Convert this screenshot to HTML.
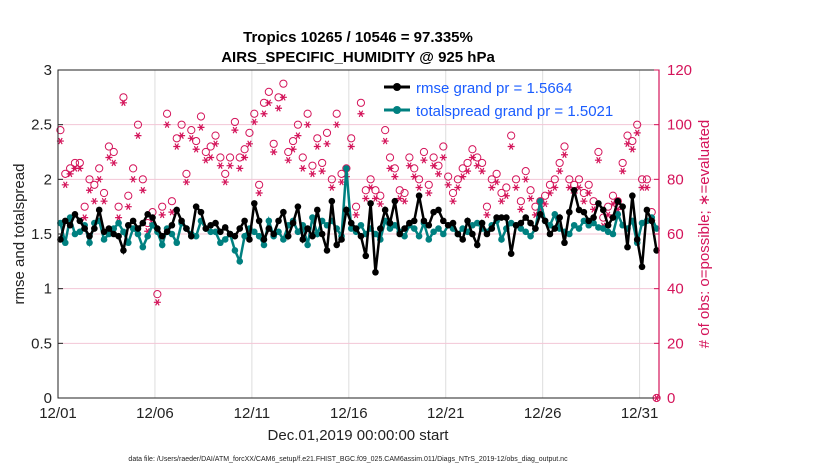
<!DOCTYPE html>
<html><head><meta charset="utf-8"><style>
body{margin:0;background:#fff;width:830px;height:470px;overflow:hidden;font-family:"Liberation Sans",sans-serif}
</style></head><body>
<svg id="chart" width="830" height="470" xmlns="http://www.w3.org/2000/svg" font-family="Liberation Sans, sans-serif">
<text x="358" y="42" text-anchor="middle" font-size="15" font-weight="bold">Tropics 10265 / 10546 = 97.335%</text>
<text x="358" y="62" text-anchor="middle" font-size="15" font-weight="bold">AIRS_SPECIFIC_HUMIDITY @ 925 hPa</text>
<g id="grid"></g>
<g id="marks"></g>
<g id="axes"></g>
<text x="358" y="440" text-anchor="middle" font-size="15" fill="#222">Dec.01,2019 00:00:00 start</text>
<text transform="translate(24,234) rotate(-90)" text-anchor="middle" font-size="15" fill="#222">rmse and totalspread</text>
<text transform="translate(709,234) rotate(-90)" text-anchor="middle" font-size="15" fill="#d4145a"># of obs: o=possible; ∗=evaluated</text>
<text x="348" y="461" text-anchor="middle" font-size="7" fill="#222">data file: /Users/raeder/DAI/ATM_forcXX/CAM6_setup/f.e21.FHIST_BGC.f09_025.CAM6assim.011/Diags_NTrS_2019-12/obs_diag_output.nc</text>
<g>
<line x1="384" y1="87" x2="410" y2="87" stroke="#000" stroke-width="3"/><circle cx="397" cy="87" r="4" fill="#000"/>
<text x="416" y="93" font-size="15" fill="#1a5cff">rmse grand pr = 1.5664</text>
<line x1="384" y1="110" x2="410" y2="110" stroke="#008080" stroke-width="3"/><circle cx="397" cy="110" r="4" fill="#008080"/>
<text x="416" y="116" font-size="15" fill="#1a5cff">totalspread grand pr = 1.5021</text>
</g>
</svg>
<script>
const rmse=[1.45,1.62,1.58,1.68,1.62,1.55,1.48,1.55,1.72,1.52,1.55,1.50,1.48,1.35,1.58,1.62,1.55,1.60,1.68,1.65,1.55,1.48,1.52,1.58,1.72,1.62,1.55,1.48,1.75,1.70,1.55,1.58,1.60,1.52,1.56,1.50,1.48,1.55,1.62,1.45,1.78,1.62,1.45,1.55,1.50,1.62,1.70,1.48,1.60,1.75,1.45,1.55,1.48,1.72,1.50,1.35,1.80,1.40,1.45,1.72,1.60,1.55,1.48,1.30,1.78,1.15,1.55,1.72,1.60,1.80,1.50,1.55,1.60,1.62,1.85,1.62,1.58,1.70,1.72,1.62,1.58,1.60,1.50,1.45,1.62,1.50,1.40,1.60,1.50,1.55,1.65,1.65,1.65,1.32,1.58,1.60,1.65,1.60,1.55,1.68,1.62,1.50,1.55,1.65,1.42,1.70,1.90,1.72,1.70,1.62,1.65,1.78,1.72,1.58,1.65,1.80,1.75,1.38,1.85,1.45,1.20,1.72,1.62,1.35];
const spread=[1.60,1.42,1.65,1.50,1.52,1.58,1.42,1.60,1.62,1.45,1.50,1.55,1.60,1.52,1.42,1.55,1.50,1.38,1.48,1.58,1.52,1.40,1.55,1.50,1.42,1.60,1.55,1.50,1.48,1.62,1.55,1.52,1.52,1.42,1.45,1.50,1.35,1.25,1.48,1.55,1.52,1.48,1.40,1.62,1.48,1.52,1.45,1.58,1.62,1.52,1.58,1.40,1.65,1.50,1.62,1.58,1.62,1.55,1.48,2.10,1.55,1.52,1.58,1.50,1.55,1.50,1.45,1.62,1.55,1.58,1.52,1.48,1.58,1.55,1.48,1.60,1.45,1.52,1.55,1.50,1.58,1.55,1.50,1.55,1.52,1.58,1.60,1.55,1.52,1.58,1.62,1.45,1.55,1.60,1.58,1.55,1.52,1.48,1.55,1.80,1.62,1.58,1.68,1.55,1.52,1.50,1.58,1.55,1.62,1.58,1.60,1.56,1.55,1.52,1.50,1.68,1.58,1.55,1.62,1.42,1.60,1.62,1.65,1.55];
const possible=[98,82,84,86,86,70,80,78,84,75,92,90,70,110,74,84,100,80,64,68,38,70,104,72,95,100,82,98,94,103,90,92,96,88,82,88,101,88,91,97,104,78,108,112,93,110,115,90,94,100,88,104,85,95,86,97,80,104,82,84,95,70,108,76,80,76,74,98,88,84,76,75,88,84,80,90,78,88,85,92,81,75,80,84,86,91,88,86,70,80,82,75,77,96,80,72,83,76,70,72,74,78,80,86,92,80,78,80,75,78,72,90,66,70,74,72,86,96,94,100,80,80,68,0];
const evaluated=[94,78,82,84,84,66,76,72,80,72,88,86,66,108,70,80,96,76,61,64,35,67,100,68,92,96,79,95,91,99,87,88,93,85,79,85,98,84,88,93,101,75,104,108,90,106,110,87,91,96,84,100,82,92,83,93,77,100,79,81,92,67,104,73,77,73,71,94,84,81,73,72,85,81,77,87,75,85,82,88,78,72,77,81,83,88,85,83,67,77,79,72,74,92,77,69,80,73,67,69,71,75,77,83,89,77,75,77,72,75,69,87,63,67,71,69,83,93,91,97,77,77,65,0];
const xTickLabels=["12/01","12/06","12/11","12/16","12/21","12/26","12/31"];
const xTickDays=[0,5,10,15,20,25,30];
const yLeftTicks=[0,0.5,1,1.5,2,2.5,3];
const yRightTicks=[0,20,40,60,80,100,120];

const X0=58,X1=659,Y0=398,Y1=70;
const xs=d=>X0+(d/31)*(X1-X0);
const yl=v=>Y0-(v/3)*(Y0-Y1);
const yr=v=>Y0-(v/120)*(Y0-Y1);
const NS="http://www.w3.org/2000/svg";
function mk(tag,attrs,parent){const e=document.createElementNS(NS,tag);for(const k in attrs)e.setAttribute(k,attrs[k]);parent.appendChild(e);return e;}
const grid=document.getElementById('grid'),marks=document.getElementById('marks'),axes=document.getElementById('axes');
xTickDays.forEach(d=>{const l=mk('line',{x1:xs(d),x2:xs(d),y1:Y1,y2:Y0,stroke:'#ddd','stroke-width':1},grid);

});
yRightTicks.forEach(v=>{if(v===0||v===120)return;const l=mk('line',{x1:X0,x2:X1,y1:yr(v),y2:yr(v),stroke:'#f3c6d6','stroke-width':1},grid);

});
const dt=0.25, off=0.125;
possible.forEach((v,i)=>{const c=mk('circle',{cx:xs(i*dt+off),cy:yr(v),r:3.6,fill:'none',stroke:'#d4145a','stroke-width':1},marks);

});
evaluated.forEach((v,i)=>{const cx=xs(i*dt+off),cy=yr(v),s=3.5;
const g=mk('path',{d:`M${cx-s},${cy}H${cx+s}M${cx-s*0.5},${cy-s*0.87}L${cx+s*0.5},${cy+s*0.87}M${cx+s*0.5},${cy-s*0.87}L${cx-s*0.5},${cy+s*0.87}`,stroke:'#d4145a','stroke-width':1.2,fill:'none'},marks);

});
function series(arr,color,name){
const pts=arr.map((v,i)=>xs(i*dt+off)+','+yl(v)).join(' ');
const p=mk('polyline',{points:pts,fill:'none',stroke:color,'stroke-width':2.5},marks);


arr.forEach((v,i)=>{const c=mk('circle',{cx:xs(i*dt+off),cy:yl(v),r:3.3,fill:color},marks);

});}
series(spread,'#008080','totalspread');
series(rmse,'#000','rmse');
const fr=mk('rect',{x:X0,y:Y1,width:X1-X0,height:Y0-Y1,fill:'none',stroke:'#222','stroke-width':1},axes);


const ra=mk('line',{x1:X1,x2:X1,y1:Y1,y2:Y0,stroke:'#d4145a','stroke-width':1.2},axes);


xTickDays.forEach((d,i)=>{const t=mk('text',{x:xs(d),y:418,'text-anchor':'middle','font-size':15,fill:'#222'},axes);t.textContent=xTickLabels[i];

});
yLeftTicks.forEach(v=>{const t=mk('text',{x:X0-6,y:yl(v)+5,'text-anchor':'end','font-size':15,fill:'#222'},axes);t.textContent=String(v);


mk('line',{x1:X0,x2:X0+5,y1:yl(v),y2:yl(v),stroke:'#222'},axes);});
yRightTicks.forEach(v=>{const t=mk('text',{x:X1+8,y:yr(v)+5,'text-anchor':'start','font-size':15,fill:'#d4145a'},axes);t.textContent=String(v);


mk('line',{x1:X1-5,x2:X1,y1:yr(v),y2:yr(v),stroke:'#d4145a'},axes);});
</script>
</body></html>
